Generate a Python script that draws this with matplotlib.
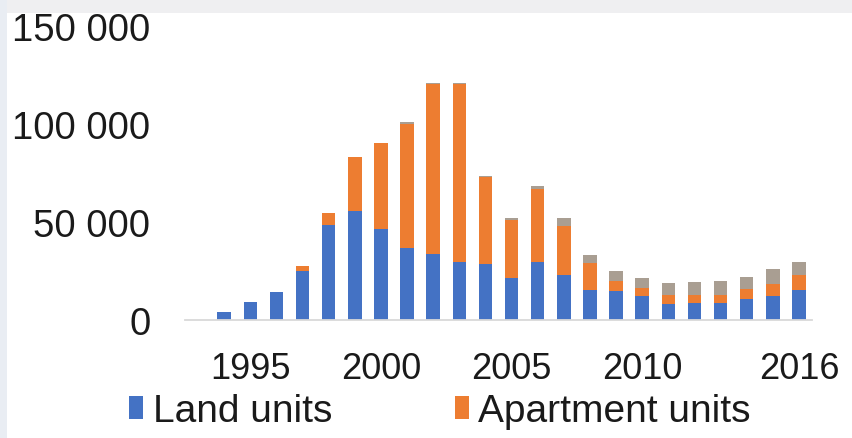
import matplotlib
matplotlib.use("Agg")
import matplotlib.pyplot as plt
from matplotlib.patches import Rectangle, Patch
from matplotlib.ticker import FuncFormatter, FixedLocator

plt.rcParams['font.family'] = ['Liberation Sans', 'DejaVu Sans']

# Housing starts by type, 1993-2016
years = list(range(1993, 2017))
land_units = [0, 3900, 9000, 14200, 25200, 48300, 55400, 46600, 36800, 33800,
              29700, 28700, 21500, 29700, 23000, 15200, 14600, 12000, 8400, 8700,
              8700, 10800, 12100, 15500]
apartment_units = [0, 0, 0, 0, 2600, 6400, 28000, 43800, 63200, 86500,
                   90600, 44300, 29400, 37000, 25100, 14000, 5200, 4500, 4600, 4300,
                   4300, 4800, 6400, 7700]
other_units = [0, 0, 0, 0, 0, 0, 0, 0, 800, 700,
               700, 700, 900, 1900, 4100, 4200, 5300, 4800, 6000, 6300,
               6800, 6400, 7500, 6200]
tick_years = [1995, 2000, 2005, 2010, 2016]

blue = "#4472C4"
orange = "#ED7D31"
grey = "#A99E92"

fig = plt.figure(figsize=(8.52, 4.39), dpi=100, facecolor="white")

# faint slide frame at the top and left edges
fig.patches.append(Rectangle((0, 1 - 14 / 439), 1, 14 / 439, transform=fig.transFigure,
                             facecolor="#EFEFF1", edgecolor="none", zorder=0))
fig.patches.append(Rectangle((0, 0), 7 / 852, 1, transform=fig.transFigure,
                             facecolor="#E9EDF3", edgecolor="none", zorder=0))

ax = fig.add_axes([185 / 852, 1 - 321 / 439, (812 - 185) / 852, (321 - 27) / 439])
ax.set_facecolor("none")

width = 0.52
ax.bar(years, land_units, width, color=blue, zorder=2)
base2 = land_units
ax.bar(years, apartment_units, width, bottom=base2, color=orange, zorder=2)
base3 = [a + b for a, b in zip(land_units, apartment_units)]
ax.bar(years, other_units, width, bottom=base3, color=grey, zorder=2)

ax.set_xlim(1992.5, 2016.5)
ax.set_ylim(0, 150000)
ax.yaxis.set_major_locator(FixedLocator([0, 50000, 100000, 150000]))
ax.yaxis.set_major_formatter(FuncFormatter(lambda v, p: f"{int(v):,}".replace(",", " ")))
ax.set_xticks(tick_years)
ax.set_xticklabels([str(y) for y in tick_years])

for side in ("top", "right", "left"):
    ax.spines[side].set_visible(False)
ax.spines["bottom"].set_color("#D9D9D9")
ax.spines["bottom"].set_linewidth(1.3)

ax.tick_params(axis="y", length=0, labelsize=27.5, colors="#1A1A1A", pad=25)
ax.tick_params(axis="x", length=0, labelsize=26, colors="#1A1A1A", pad=22)

handles = [Patch(facecolor=blue), Patch(facecolor=orange)]
fig.legend(handles, ["Land units", "Apartment units"], loc="center left",
           bbox_to_anchor=(129 / 852, 1 - 412 / 439), ncol=2, frameon=False,
           fontsize=28, handlelength=0.36, handleheight=0.55, handletextpad=0.25,
           columnspacing=3.15, borderpad=0, borderaxespad=0, labelcolor="#1A1A1A")

fig.savefig("out.png", dpi=100, facecolor=fig.get_facecolor())
